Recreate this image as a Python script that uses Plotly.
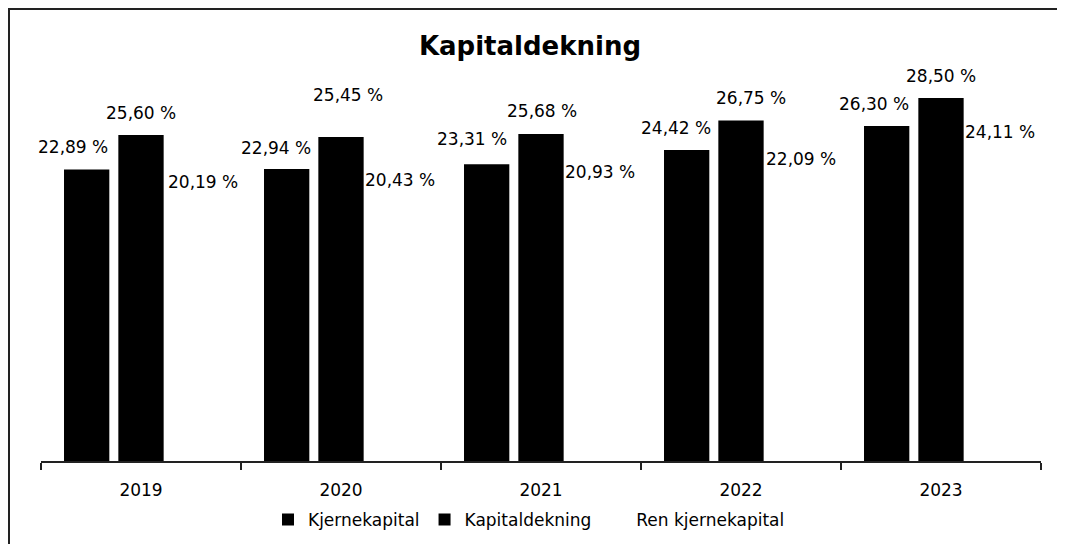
import plotly.graph_objects as go

years = ["2019", "2020", "2021", "2022", "2023"]
series_names = ["Kjernekapital", "Kapitaldekning", "Ren kjernekapital"]
kjernekapital = [22.89, 22.94, 23.31, 24.42, 26.30]
kapitaldekning = [25.60, 25.45, 25.68, 26.75, 28.50]
ren_kjernekapital = [20.19, 20.43, 20.93, 22.09, 24.11]
label_text = {
    "Kjernekapital": ["22,89 %", "22,94 %", "23,31 %", "24,42 %", "26,30 %"],
    "Kapitaldekning": ["25,60 %", "25,45 %", "25,68 %", "26,75 %", "28,50 %"],
    "Ren kjernekapital": ["20,19 %", "20,43 %", "20,93 %", "22,09 %", "24,11 %"],
}

values = [kjernekapital, kapitaldekning, ren_kjernekapital]
colors = ["#000000", "#000000", "#ffffff"]

# label placement (pixels, style only)
label_dx = [[-68, -65, -69, -65, -67],
            [0, 7, 1, 10, 0],
            [62, 59, 59, 60, 59]]
label_dy = [[23, 21, 25, 22, 22],
            [22, 42, 23, 22, 22],
            [22, 21, 22, 21, 22]]

FONT = "DejaVu Sans"
fig = go.Figure()
for name, vals, col in zip(series_names, values, colors):
    fig.add_trace(go.Bar(
        x=years, y=vals, name=name,
        marker=dict(color=col, line=dict(width=0)),
        hoverinfo="skip",
    ))

annotations = []
for si, name in enumerate(series_names):
    for i, yr in enumerate(years):
        annotations.append(dict(
            x=i, y=values[si][i], xref="x", yref="y",
            text=label_text[name][i], showarrow=False,
            xanchor="center", yanchor="middle",
            xshift=label_dx[si][i], yshift=label_dy[si][i],
            font=dict(family=FONT, size=17, color="#000000"),
        ))

frame_top = (461 - 9) / 382
frame_left = -0.032
fig.update_layout(
    width=1057, height=536,
    margin=dict(l=33, r=24, t=71, b=83, autoexpand=False),
    paper_bgcolor="#ffffff", plot_bgcolor="#ffffff",
    barmode="group", bargap=0.185, bargroupgap=0.166,
    title=dict(text="<b>Kapitaldekning</b>", x=0.489, xref="paper",
               y=1 - 38 / 536, yref="container", xanchor="center", yanchor="middle",
               font=dict(family=FONT, size=26, color="#000000")),
    font=dict(family=FONT, size=17, color="#000000"),
    xaxis=dict(type="category", categoryorder="array", categoryarray=years,
               range=[-0.5, len(years) - 0.5], autorange=False,
               showline=True, linecolor="#222222", linewidth=2,
               ticks="outside", tickson="boundaries", ticklen=7, tickwidth=2,
               tickcolor="#222222", showgrid=False, zeroline=False,
               ticklabelstandoff=13, tickangle=0,
               tickfont=dict(family=FONT, size=17, color="#000000")),
    yaxis=dict(visible=False, range=[0, 30], showgrid=False, zeroline=False),
    legend=dict(orientation="h", x=0.488, xanchor="center", y=-0.154, yanchor="middle",
                font=dict(family=FONT, size=17, color="#000000"),
                itemwidth=30, traceorder="normal", bgcolor="rgba(0,0,0,0)"),
    annotations=annotations,
    shapes=[
        dict(type="line", xref="paper", yref="paper",
             x0=frame_left - 0.001, x1=1.03, y0=frame_top, y1=frame_top,
             line=dict(color="#222222", width=2), layer="below"),
        dict(type="line", xref="paper", yref="paper",
             x0=frame_left, x1=frame_left, y0=frame_top, y1=-0.25,
             line=dict(color="#222222", width=2), layer="below"),
    ],
)

fig.write_html("out.html")
